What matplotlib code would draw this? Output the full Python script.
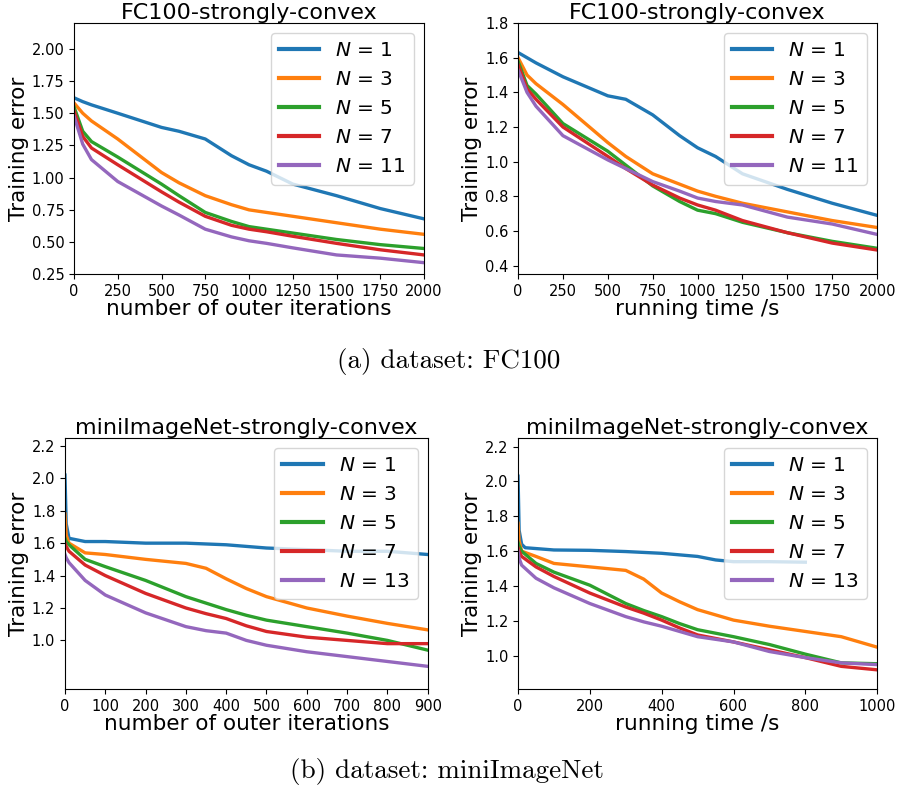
import matplotlib
matplotlib.use('Agg')
import matplotlib.pyplot as plt

# ---------------------------------------------------------
# data
# ---------------------------------------------------------
labels_fc = [r'$N$ = 1', r'$N$ = 3', r'$N$ = 5', r'$N$ = 7', r'$N$ = 11']
labels_mi = [r'$N$ = 1', r'$N$ = 3', r'$N$ = 5', r'$N$ = 7', r'$N$ = 13']
colors = ['#1f77b4', '#ff7f0e', '#2ca02c', '#d62728', '#9467bd']

# FC100, error vs. outer iterations
fc_iter_x = [0, 50, 100, 250, 500, 600, 750, 900, 1000, 1100, 1250, 1500, 1750, 2000]
fc_iter_n1 = [1.62, 1.59, 1.565, 1.50, 1.39, 1.36, 1.30, 1.17, 1.10, 1.05, 0.95, 0.86, 0.76, 0.68]
fc_iter_n3 = [1.58, 1.50, 1.44, 1.30, 1.04, 0.96, 0.86, 0.79, 0.75, 0.73, 0.70, 0.65, 0.60, 0.56]
fc_iter_n5 = [1.55, 1.36, 1.28, 1.16, 0.95, 0.86, 0.73, 0.66, 0.62, 0.60, 0.57, 0.52, 0.48, 0.45]
fc_iter_n7 = [1.52, 1.32, 1.23, 1.10, 0.89, 0.81, 0.70, 0.63, 0.60, 0.58, 0.545, 0.49, 0.44, 0.40]
fc_iter_n11 = [1.48, 1.26, 1.14, 0.97, 0.78, 0.71, 0.60, 0.54, 0.51, 0.49, 0.455, 0.40, 0.375, 0.34]

# FC100, error vs. running time
fc_time_x = [0, 50, 100, 250, 500, 600, 750, 900, 1000, 1100, 1250, 1500, 1750, 2000]
fc_time_n1 = [1.63, 1.60, 1.57, 1.49, 1.38, 1.36, 1.27, 1.15, 1.08, 1.03, 0.93, 0.84, 0.76, 0.69]
fc_time_n3 = [1.60, 1.50, 1.45, 1.33, 1.11, 1.03, 0.93, 0.87, 0.83, 0.80, 0.76, 0.71, 0.66, 0.62]
fc_time_n5 = [1.58, 1.44, 1.39, 1.22, 1.06, 0.98, 0.86, 0.77, 0.72, 0.70, 0.65, 0.59, 0.54, 0.50]
fc_time_n7 = [1.56, 1.42, 1.36, 1.20, 1.03, 0.96, 0.865, 0.79, 0.75, 0.72, 0.66, 0.59, 0.53, 0.49]
fc_time_n11 = [1.53, 1.40, 1.32, 1.15, 1.01, 0.96, 0.885, 0.83, 0.79, 0.77, 0.75, 0.68, 0.64, 0.58]

# miniImageNet, error vs. outer iterations
mi_iter_x = [0, 3, 10, 50, 100, 200, 300, 350, 400, 450, 500, 600, 700, 800, 900]
mi_iter_n1 = [2.02, 1.72, 1.63, 1.61, 1.61, 1.60, 1.60, 1.595, 1.59, 1.58, 1.57, 1.56, 1.55, 1.55, 1.53]
mi_iter_n3 = [1.78, 1.65, 1.60, 1.54, 1.53, 1.50, 1.475, 1.445, 1.38, 1.32, 1.27, 1.20, 1.15, 1.105, 1.065]
mi_iter_n5 = [1.63, 1.61, 1.59, 1.50, 1.455, 1.37, 1.27, 1.23, 1.19, 1.155, 1.125, 1.085, 1.045, 1.00, 0.94]
mi_iter_n7 = [1.60, 1.58, 1.55, 1.465, 1.40, 1.29, 1.20, 1.165, 1.135, 1.09, 1.055, 1.02, 1.00, 0.98, 0.98]
mi_iter_n13 = [1.53, 1.51, 1.48, 1.37, 1.28, 1.17, 1.085, 1.06, 1.045, 1.00, 0.97, 0.93, 0.90, 0.87, 0.84]

# miniImageNet, error vs. running time (N=1 run stops at ~800 s)
mi_time_x = [0, 3, 10, 50, 100, 200, 300, 350, 400, 450, 500, 600, 700, 800, 900, 1000]
mi_time_x_n1 = [0, 3, 10, 20, 100, 200, 300, 400, 500, 550, 600, 700, 800]
mi_time_n1 = [2.03, 1.72, 1.64, 1.62, 1.607, 1.605, 1.598, 1.588, 1.57, 1.55, 1.54, 1.54, 1.537]
mi_time_n3 = [1.76, 1.66, 1.60, 1.57, 1.53, 1.51, 1.49, 1.44, 1.36, 1.31, 1.265, 1.205, 1.17, 1.14, 1.11, 1.05]
mi_time_n5 = [1.65, 1.63, 1.60, 1.53, 1.48, 1.405, 1.30, 1.26, 1.225, 1.185, 1.15, 1.11, 1.065, 1.01, 0.96, 0.955]
mi_time_n7 = [1.62, 1.60, 1.57, 1.51, 1.455, 1.36, 1.28, 1.245, 1.205, 1.16, 1.12, 1.08, 1.035, 0.99, 0.94, 0.92]
mi_time_n13 = [1.60, 1.56, 1.52, 1.445, 1.39, 1.30, 1.225, 1.195, 1.17, 1.14, 1.11, 1.08, 1.025, 0.99, 0.96, 0.95]

# ---------------------------------------------------------
# figure
# ---------------------------------------------------------
fig = plt.figure(figsize=(9, 7.95), dpi=100)

ax1 = fig.add_axes([0.0822, 0.655, 0.389, 0.316])
ax2 = fig.add_axes([0.5756, 0.655, 0.399, 0.316])
ax3 = fig.add_axes([0.0722, 0.1333, 0.403, 0.316])
ax4 = fig.add_axes([0.5756, 0.1333, 0.399, 0.316])

panels = [
    (ax1, [fc_iter_x] * 5, [fc_iter_n1, fc_iter_n3, fc_iter_n5, fc_iter_n7, fc_iter_n11],
     labels_fc, 'FC100-strongly-convex', 'number of outer iterations'),
    (ax2, [fc_time_x] * 5, [fc_time_n1, fc_time_n3, fc_time_n5, fc_time_n7, fc_time_n11],
     labels_fc, 'FC100-strongly-convex', 'running time /s'),
    (ax3, [mi_iter_x] * 5, [mi_iter_n1, mi_iter_n3, mi_iter_n5, mi_iter_n7, mi_iter_n13],
     labels_mi, 'miniImageNet-strongly-convex', 'number of outer iterations'),
    (ax4, [mi_time_x_n1] + [mi_time_x] * 4, [mi_time_n1, mi_time_n3, mi_time_n5, mi_time_n7, mi_time_n13],
     labels_mi, 'miniImageNet-strongly-convex', 'running time /s'),
]

for ax, xs, ys, labs, title, xlabel in panels:
    for x, y, lab, c in zip(xs, ys, labs, colors):
        ax.plot(x, y, color=c, lw=2.4, label=lab)
    ax.set_title(title, fontsize=16, pad=3)
    ax.set_xlabel(xlabel, fontsize=15.5, labelpad=0)
    ax.set_ylabel('Training error', fontsize=15.5, labelpad=2)
    ax.tick_params(labelsize=10.5)
    leg = ax.legend(loc='upper right', fontsize=14.5, handlelength=2.0)
    for line in leg.get_lines():
        line.set_linewidth(3)

ax1.set_xlim(0, 2000)
ax1.set_ylim(0.25, 2.2)
ax1.set_yticks([0.25, 0.5, 0.75, 1.0, 1.25, 1.5, 1.75, 2.0])
ax1.set_xticks([0, 250, 500, 750, 1000, 1250, 1500, 1750, 2000])

ax2.set_xlim(0, 2000)
ax2.set_ylim(0.35, 1.8)
ax2.set_yticks([0.4, 0.6, 0.8, 1.0, 1.2, 1.4, 1.6, 1.8])
ax2.set_xticks([0, 250, 500, 750, 1000, 1250, 1500, 1750, 2000])

ax3.set_xlim(0, 900)
ax3.set_ylim(0.7, 2.25)
ax3.set_yticks([1.0, 1.2, 1.4, 1.6, 1.8, 2.0, 2.2])
ax3.set_xticks(range(0, 901, 100))

ax4.set_xlim(0, 1000)
ax4.set_ylim(0.81, 2.25)
ax4.set_yticks([1.0, 1.2, 1.4, 1.6, 1.8, 2.0, 2.2])
ax4.set_xticks(range(0, 1001, 200))

# sub-captions (Computer Modern, as in the LaTeX document)
fig.text(0.498, 0.545, '(a) dataset: FC100', ha='center', va='center',
         fontsize=19.5, fontname='cmr10')
fig.text(0.497, 0.029, '(b) dataset: miniImageNet', ha='center', va='center',
         fontsize=19.5, fontname='cmr10')

fig.savefig('out.png', dpi=100)
